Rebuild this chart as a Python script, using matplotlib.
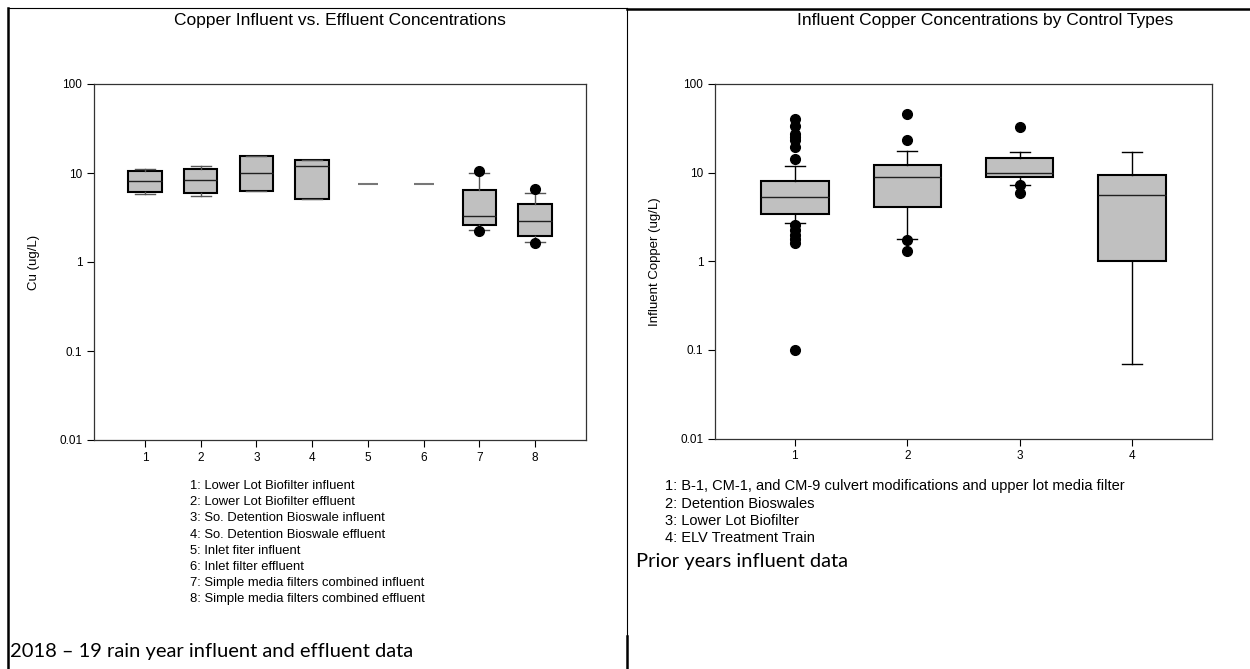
import matplotlib
matplotlib.use("Agg")
import matplotlib.pyplot as plt
from matplotlib.lines import Line2D

W, H = 1250, 669

# left chart: 2018-19 influent / effluent
left_pos = [1, 2, 3, 4, 7, 8]
left_q1 = [6.07, 5.96, 6.23, 5.1, 2.6, 1.98]
left_med = [8.13, 8.33, 10.1, 11.9, 3.26, 2.87]
left_q3 = [10.6, 11.2, 15.6, 13.9, 6.4, 4.45]
left_lo = [5.8, 5.47, 6.23, 5.1, 2.31, 1.66]
left_hi = [11.0, 11.9, 15.6, 13.9, 10.0, 6.01]
left_fliers = [[], [], [], [], [10.6, 2.21], [6.56, 1.63]]
single_pos = [5, 6]
single_vals = [7.5, 7.5]
left_legend = ["1: Lower Lot Biofilter influent",
               "2: Lower Lot Biofilter effluent",
               "3: So. Detention Bioswale influent",
               "4: So. Detention Bioswale effluent",
               "5: Inlet fiter influent",
               "6: Inlet filter effluent",
               "7: Simple media filters combined influent",
               "8: Simple media filters combined effluent"]

# right chart: prior years influent
right_pos = [1, 2, 3, 4]
right_q1 = [3.39, 4.07, 8.95, 1.0]
right_med = [5.24, 8.87, 10.0, 5.66]
right_q3 = [8.06, 12.1, 14.8, 9.35]
right_lo = [2.71, 1.76, 7.34, 0.07]
right_hi = [12.0, 17.6, 17.1, 17.1]
right_fliers = [[40.8, 33.4, 27.6, 25.3, 23.2, 19.5, 14.1,
                 2.55, 2.24, 2.0, 1.8, 1.61, 0.1],
                [45.6, 23.2, 1.72, 1.30],
                [32.3, 7.2, 5.9],
                []]
right_legend = ["1: B-1, CM-1, and CM-9 culvert modifications and upper lot media filter",
                "2: Detention Bioswales",
                "3: Lower Lot Biofilter",
                "4: ELV Treatment Train"]

yticks = [0.01, 0.1, 1, 10, 100]
yticklabels = ["0.01", "0.1", "1", "10", "100"]

plt.rcParams['font.family'] = ['Liberation Sans', 'DejaVu Sans']

fig = plt.figure(figsize=(W / 100, H / 100), dpi=100)


def px_axes(x0, y0, x1, y1):
    return fig.add_axes([x0 / W, 1 - y1 / H, (x1 - x0) / W, (y1 - y0) / H])


def draw_boxes(ax, pos, q1, med, q3, lo, hi, fliers, capw, wcol):
    stats = []
    for i in range(len(pos)):
        stats.append(dict(med=med[i], q1=q1[i], q3=q3[i],
                          whislo=lo[i], whishi=hi[i], fliers=fliers[i]))
    ax.bxp(stats, positions=pos, widths=0.6, capwidths=capw,
           patch_artist=True, manage_ticks=False,
           boxprops=dict(facecolor='#c0c0c0', edgecolor='black', linewidth=1.5),
           medianprops=dict(color='#202020', linewidth=1.0),
           whiskerprops=dict(color=wcol, linewidth=1.0),
           capprops=dict(color=wcol, linewidth=1.0),
           flierprops=dict(marker='o', markerfacecolor='black',
                           markeredgecolor='black', markersize=7))


def style_axes(ax, n, xlim, ylabel):
    ax.set_yscale('log')
    ax.set_ylim(0.01, 100)
    ax.set_xlim(*xlim)
    ax.set_yticks(yticks)
    ax.set_yticklabels(yticklabels)
    ax.yaxis.set_minor_locator(matplotlib.ticker.NullLocator())
    ax.set_xticks(range(1, n + 1))
    ax.set_xticklabels([str(i) for i in range(1, n + 1)])
    ax.tick_params(direction='out', length=5, width=0.8, labelsize=8.5,
                   colors='black', pad=3.5)
    for s in ax.spines.values():
        s.set_linewidth(0.9)
        s.set_color('#333333')
    ax.set_ylabel(ylabel, fontsize=9.5, labelpad=14)


ax1 = px_axes(94, 84, 586, 440)
draw_boxes(ax1, left_pos, left_q1, left_med, left_q3, left_lo, left_hi,
           left_fliers, 0.36, '#555555')
ax1.hlines(single_vals, [p - 0.18 for p in single_pos],
           [p + 0.18 for p in single_pos], colors='#777777', linewidth=1.5)
style_axes(ax1, 8, (0.085, 8.915), "Cu (ug/L)")

ax2 = px_axes(715, 84, 1212, 438.5)
draw_boxes(ax2, right_pos, right_q1, right_med, right_q3, right_lo, right_hi,
           right_fliers, 0.18, 'black')
style_axes(ax2, 4, (0.29, 4.71), "Influent Copper (ug/L)")

# titles
fig.text(340 / W, 1 - 20 / H, "Copper Influent vs. Effluent Concentrations",
         ha='center', va='center', fontsize=12.5)
fig.text(985 / W, 1 - 20 / H, "Influent Copper Concentrations by Control Types",
         ha='center', va='center', fontsize=12.5)

# category keys
for i, t in enumerate(left_legend):
    fig.text(190 / W, 1 - (486 + i * 16.2) / H, t, ha='left', va='center', fontsize=9.4)
for i, t in enumerate(right_legend):
    fig.text(665 / W, 1 - (486 + i * 17.5) / H, t, ha='left', va='center', fontsize=10.5)

fig.text(10 / W, 1 - 652 / H, "2018 \u2013 19 rain year influent and effluent data",
         ha='left', va='center', fontsize=14.5, family=['Lato', 'DejaVu Sans'])
fig.text(636 / W, 1 - 562 / H, "Prior years influent data",
         ha='left', va='center', fontsize=14.5, family=['Lato', 'DejaVu Sans'])

# table borders
def border(x, y, lw):
    fig.add_artist(Line2D([v / W for v in x], [1 - v / H for v in y],
                          color='black', linewidth=lw))

border([8, 627], [8, 8], 0.8)
border([627, 1250], [8.5, 8.5], 1.8)
border([8, 8], [8, 669], 1.8)
border([627, 627], [8, 636], 0.8)
border([626.5, 626.5], [636, 669], 1.8)

fig.savefig("out.png", dpi=100)
